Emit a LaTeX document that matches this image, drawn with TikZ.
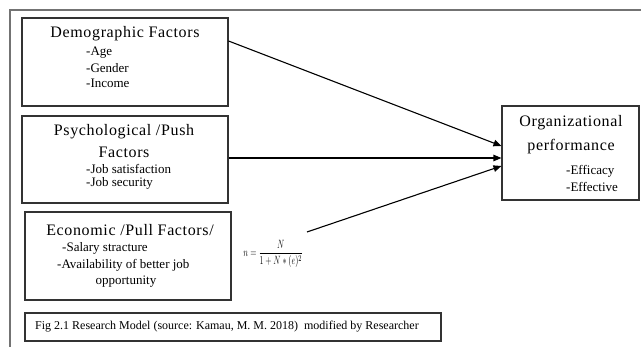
\documentclass[tikz,border=0pt]{standalone}
\usepackage{amsmath}
\usepackage{graphicx}
\usepackage{fontspec}
\setmainfont{Liberation Serif}
\newfontfamily\spacedfont{Liberation Serif}[LetterSpace=4]
\usepackage{tikz}
\usetikzlibrary{arrows.meta}

\tikzset{
    factorbox/.style={draw=black!80, line width=1.1pt, inner sep=0pt,
        minimum width=206pt, minimum height=88pt},
    heading/.style={font=\spacedfont\fontsize{16}{19}\selectfont, inner sep=0pt},
    item/.style={font=\fontsize{13}{15}\selectfont, inner sep=0pt, anchor=west},
    link/.style={line width=1.1pt, -{Triangle[length=8pt,width=6.5pt]}}
}

\begin{document}
\begin{tikzpicture}[x=1pt, y=-1pt]
    \useasboundingbox (0,0) rectangle (641,347);
    \draw [black!55, line width=1.5pt] (641,10) -- (10,10) -- (10,347);

    \node [factorbox] (demo) at (125,62) {};
    \node [factorbox, minimum height=87pt] (psych) at (125,159.5) {};
    \node [factorbox] (econ) at (128,256) {};
    \node [factorbox, minimum width=137pt, minimum height=94pt] (org) at (570.5,153) {};
    \node [factorbox, minimum width=416pt, minimum height=28pt] (cap) at (233,327) {};

    \node [heading] (demoT) at (125,34) {Demographic Factors};
    \node [item] (age) at (86,53) {-Age};
    \node [item] (gender) at (86,68) {-Gender};
    \node [item] (income) at (86,83) {-Income};

    \node [heading] (psychT) at (124,132) {Psychological /Push};
    \node [heading] (psychF) at (124,152) {Factors};
    \node [item] (jobsat) at (86,169) {-Job satisfaction};
    \node [item] (jobsec) at (86,183) {-Job security};

    \node [heading] (econT) at (130,230) {Economic /Pull Factors/};
    \node [item] (salary) at (62,248) {-Salary stracture};
    \node [item] (avail) at (57,265) {-Availability of better job};
    \node [item, anchor=center] (oppo) at (126,282) {opportunity};

    \node [heading] (orgT) at (571,123) {Organizational};
    \node [heading] (orgP) at (571,147) {performance};
    \node [item] (efficacy) at (566,171) {-Efficacy};
    \node [item] (effective) at (566,187) {-Effective};

    \node [font=\fontsize{13}{15}\selectfont, inner sep=0pt] (formula) at (273,254)
        {\scalebox{0.68}[1]{$n=\dfrac{N}{1+N\ast(e)^2}$}};

    \node [item, font=\fontsize{12}{14}\selectfont] (capT) at (35,327)
        {Fig 2.1 Research Model (source: Kamau, M. M. 2018)\ \ modified by Researcher};

    \coordinate (econEnd) at (307,232);
    \draw [link] ([yshift=21pt]demo.east) -- ([yshift=7pt]org.west);
    \draw [link] ([yshift=1.5pt]psych.east) -- ([yshift=-5pt]org.west);
    \draw [link] (econEnd) -- ([yshift=-13pt]org.west);
\end{tikzpicture}
\end{document}
